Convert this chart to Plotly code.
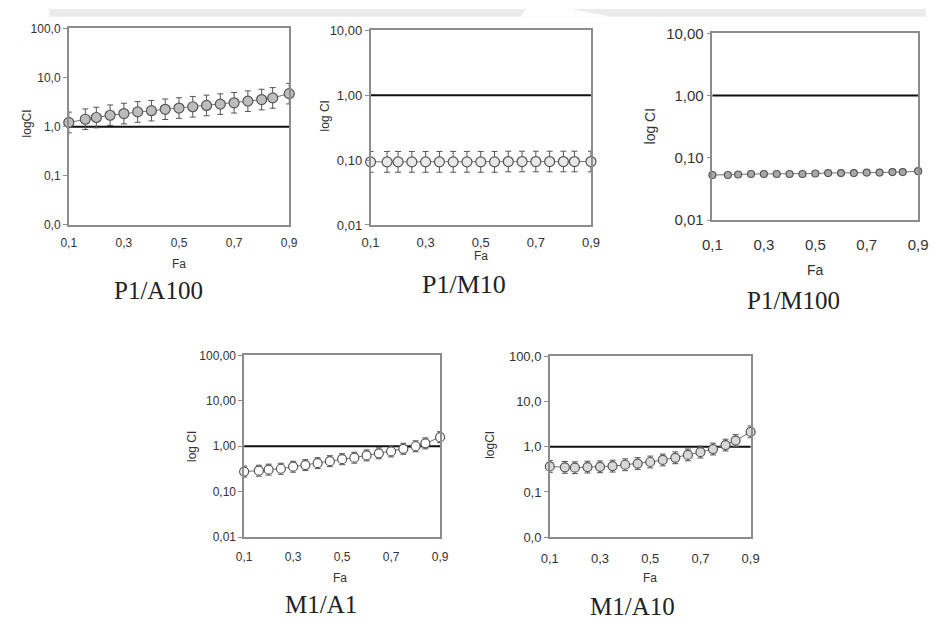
import plotly.graph_objects as go

W, H = 935, 624

fa = [0.1, 0.16, 0.2, 0.25, 0.3, 0.35, 0.4, 0.45, 0.5, 0.55, 0.6, 0.65, 0.7, 0.75, 0.8, 0.84, 0.9]
fa_ticks = [0.1, 0.3, 0.5, 0.7, 0.9]
fa_ticktext = ["0,1", "0,3", "0,5", "0,7", "0,9"]

# P1/A100
p1a100_ci = [1.22, 1.42, 1.54, 1.71, 1.85, 2.0, 2.12, 2.26, 2.4, 2.55, 2.71, 2.88, 3.07, 3.31, 3.57, 3.86, 4.71]
p1a100_hi = [1.98, 2.30, 2.49, 2.77, 3.0, 3.24, 3.43, 3.66, 3.89, 4.13, 4.39, 4.67, 4.97, 5.36, 5.78, 6.25, 7.63]
p1a100_lo = [0.75, 0.88, 0.95, 1.06, 1.14, 1.23, 1.31, 1.40, 1.48, 1.57, 1.67, 1.78, 1.90, 2.04, 2.20, 2.38, 2.91]

# P1/M10
p1m10_ci = [0.094, 0.094, 0.094, 0.094, 0.094, 0.094, 0.094, 0.094, 0.094, 0.094, 0.095, 0.095, 0.095, 0.095, 0.095, 0.095, 0.095]
p1m10_hi = [0.136, 0.136, 0.136, 0.136, 0.136, 0.136, 0.136, 0.136, 0.136, 0.136, 0.137, 0.137, 0.137, 0.137, 0.137, 0.137, 0.137]
p1m10_lo = [0.065, 0.065, 0.065, 0.065, 0.065, 0.065, 0.065, 0.065, 0.065, 0.065, 0.066, 0.066, 0.066, 0.066, 0.066, 0.066, 0.066]

# P1/M100
p1m100_ci = [0.053, 0.053, 0.054, 0.055, 0.055, 0.055, 0.055, 0.055, 0.056, 0.057, 0.057, 0.057, 0.058, 0.058, 0.059, 0.059, 0.061]

# M1/A1
m1a1_ci = [0.277, 0.29, 0.306, 0.32, 0.355, 0.385, 0.425, 0.47, 0.52, 0.56, 0.63, 0.70, 0.77, 0.88, 1.0, 1.16, 1.58]
m1a1_hi = [0.366, 0.383, 0.404, 0.422, 0.469, 0.508, 0.561, 0.620, 0.686, 0.739, 0.832, 0.924, 1.016, 1.162, 1.32, 1.53, 2.09]
m1a1_lo = [0.210, 0.220, 0.232, 0.242, 0.269, 0.292, 0.322, 0.356, 0.394, 0.424, 0.477, 0.530, 0.583, 0.667, 0.758, 0.879, 1.197]

# M1/A10
m1a10_ci = [0.367, 0.35, 0.344, 0.355, 0.36, 0.373, 0.40, 0.425, 0.46, 0.51, 0.57, 0.66, 0.76, 0.89, 1.09, 1.37, 2.13]
m1a10_hi = [0.495, 0.473, 0.464, 0.479, 0.486, 0.504, 0.54, 0.574, 0.621, 0.689, 0.77, 0.891, 1.026, 1.20, 1.47, 1.85, 2.88]
m1a10_lo = [0.272, 0.259, 0.255, 0.263, 0.267, 0.276, 0.296, 0.315, 0.341, 0.378, 0.422, 0.489, 0.563, 0.659, 0.807, 1.015, 1.578]

ref_ci = 1.0

ytick_vals_5 = [0.01, 0.1, 1, 10, 100]
ytick_text_1dec = ["0,0", "0,1", "1,0", "10,0", "100,0"]
ytick_text_2dec = ["0,01", "0,10", "1,00", "10,00", "100,00"]
ytick_vals_4 = [0.01, 0.1, 1, 10]
ytick_text_4 = ["0,01", "0,10", "1,00", "10,00"]

# panel geometry in pixels: (x0, x1, ytop, ybottom)
panels = [
    dict(name="P1/A100", box=(60, 285, 20, 222), y=p1a100_ci, hi=p1a100_hi, lo=p1a100_lo,
         yr=[-2, 2], tv=ytick_vals_5, tt=ytick_text_1dec, fill="#bdbdbd", msize=10, fs=12,
         ytitle="logCI", ytpos=(17, 118), fapos=(173, 262), tpos=(152, 289), tfs=25, xstand=6),
    dict(name="P1/M10", box=(368, 593, 22, 222), y=p1m10_ci, hi=p1m10_hi, lo=p1m10_lo,
         yr=[-2, 1], tv=ytick_vals_4, tt=ytick_text_4, fill="#e8e8e8", msize=10, fs=13,
         ytitle="log CI", ytpos=(322, 110), fapos=(481, 254), tpos=(463, 283), tfs=26, xstand=5),
    dict(name="P1/M100", box=(717, 927, 25, 217), y=p1m100_ci, hi=None, lo=None,
         yr=[-2, 1], tv=ytick_vals_4, tt=ytick_text_4, fill="#a8a8a8", msize=7, fs=15,
         ytitle="log CI", ytpos=(653, 120), fapos=(822, 268), tpos=(800, 300), tfs=25, xstand=10),
    dict(name="M1/A1", box=(239, 439, 356, 543), y=m1a1_ci, hi=m1a1_hi, lo=m1a1_lo,
         yr=[-2, 2], tv=ytick_vals_5, tt=ytick_text_2dec, fill="#ffffff", msize=9, fs=12,
         ytitle="log CI", ytpos=(185, 450), fapos=(337, 585), tpos=(317, 612), tfs=25, xstand=8),
    dict(name="M1/A10", box=(551, 756, 357, 543), y=m1a10_ci, hi=m1a10_hi, lo=m1a10_lo,
         yr=[-2, 2], tv=ytick_vals_5, tt=ytick_text_1dec, fill="#d8d8d8", msize=9, fs=13,
         ytitle="logCI", ytpos=(490, 448), fapos=(653, 585), tpos=(635, 614), tfs=25, xstand=8),
]

SANS = "Liberation Sans, Arial, sans-serif"
SERIF = "Liberation Serif, Times New Roman, serif"

fig = go.Figure()
layout = dict(width=W, height=H, margin=dict(l=0, r=0, t=0, b=0), autosize=False,
              paper_bgcolor="white", plot_bgcolor="white", showlegend=False)
annotations = []
shapes = []

# grey strip at the top of the scanned page
shapes.append(dict(type="rect", xref="paper", yref="paper", x0=40 / W, x1=1, y0=1 - 8 / H, y1=1,
                   fillcolor="#ebebeb", line=dict(width=0), layer="below"))
shapes.append(dict(type="path", xref="paper", yref="paper",
                   path=f"M {527/W} 1 L {573/W} 1 L {613/W} {1-8/H} L {521/W} {1-8/H} Z",
                   fillcolor="white", line=dict(width=0), layer="below"))

for i, p in enumerate(panels):
    k = "" if i == 0 else str(i + 1)
    x0, x1, yt, yb = p["box"]
    xa, ya = "x" + k, "y" + k
    axline = dict(showline=True, linecolor="#8c8c8c", linewidth=1.5, mirror=True,
                  showgrid=False, zeroline=False)
    layout["xaxis" + k] = dict(domain=[x0 / W, x1 / W], anchor=ya, range=[0.1, 0.9],
                               tickvals=fa_ticks, ticktext=fa_ticktext, ticks="",
                               ticklabelstandoff=p["xstand"],
                               tickfont=dict(family=SANS, size=p["fs"], color="#333333"), **axline)
    layout["yaxis" + k] = dict(domain=[1 - yb / H, 1 - yt / H], anchor=xa, type="log",
                               range=p["yr"], tickvals=p["tv"], ticktext=p["tt"],
                               ticks="outside", ticklen=4, tickcolor="#8c8c8c",
                               tickfont=dict(family=SANS, size=p["fs"], color="#333333"), **axline)
    err = None
    if p["hi"] is not None:
        err = dict(type="data", symmetric=False,
                   array=[h - v for h, v in zip(p["hi"], p["y"])],
                   arrayminus=[v - l for v, l in zip(p["y"], p["lo"])],
                   color="#555555", thickness=1, width=3)
    fig.add_trace(go.Scatter(x=fa, y=p["y"], xaxis=xa, yaxis=ya, mode="lines+markers",
                             line=dict(color="#707070", width=1),
                             marker=dict(size=p["msize"], color=p["fill"],
                                         line=dict(color="#555555", width=1.2)),
                             error_y=err, cliponaxis=False, hoverinfo="x+y"))
    shapes.append(dict(type="line", xref=xa + " domain", yref=ya, x0=0, x1=1, y0=ref_ci, y1=ref_ci,
                       line=dict(color="#111111", width=2), layer="below"))
    fs_title = p["fs"] if p["fs"] <= 12 else p["fs"] - 1
    annotations.append(dict(text=p["ytitle"], xref="paper", yref="paper",
                            x=p["ytpos"][0] / W, y=1 - p["ytpos"][1] / H, textangle=-90,
                            showarrow=False, xanchor="center", yanchor="middle",
                            font=dict(family=SANS, size=fs_title, color="#333333")))
    annotations.append(dict(text="Fa", xref="paper", yref="paper",
                            x=p["fapos"][0] / W, y=1 - p["fapos"][1] / H,
                            showarrow=False, xanchor="center", yanchor="middle",
                            font=dict(family=SANS, size=fs_title, color="#333333")))
    annotations.append(dict(text=p["name"], xref="paper", yref="paper",
                            x=p["tpos"][0] / W, y=1 - p["tpos"][1] / H,
                            showarrow=False, xanchor="center", yanchor="middle",
                            font=dict(family=SERIF, size=p["tfs"], color="#222222")))

layout["annotations"] = annotations
layout["shapes"] = shapes
fig.update_layout(**layout)
fig.write_html("out.html", config={"displayModeBar": False},
               post_script="document.body.style.margin='0';document.body.style.overflow='hidden';")
